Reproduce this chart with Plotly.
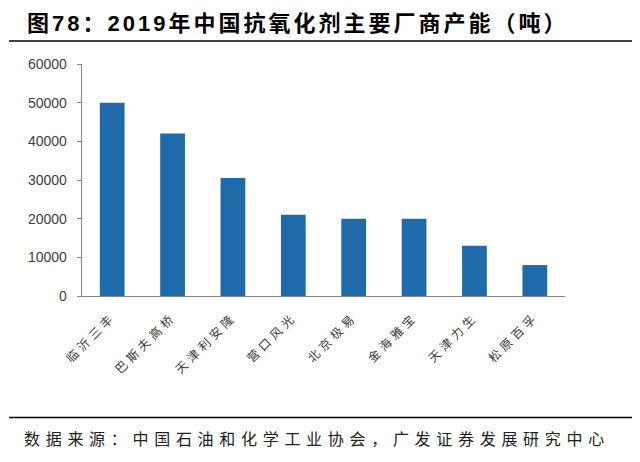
import plotly.graph_objects as go

companies = ["临沂三丰", "巴斯夫高桥", "天津利安隆", "营口风光", "北京极易", "金海雅宝", "天津力生", "松原百孚"]
capacity = [50000, 42000, 30500, 21000, 20000, 20000, 13000, 8000]
y_ticks = [0, 10000, 20000, 30000, 40000, 50000, 60000]
y_tick_labels = [str(v) for v in y_ticks]

title_text = "图78：2019年中国抗氧化剂主要厂商产能（吨）"
source_text = "数据来源：中国石油和化学工业协会，广发证券发展研究中心"

W, H = 640, 462
L, R, T, B = 82, 565, 64, 296


def px_x(px):
    return (px - L) / (R - L)


def px_y(py):
    return (B - py) / (B - T)


CJK = "Liberation Sans, Noto Sans CJK SC, sans-serif"

fig = go.Figure(
    go.Bar(
        x=companies,
        y=capacity,
        marker=dict(color="#1F6BAA", line=dict(width=0)),
        width=0.41,
        hoverinfo="skip",
    )
)

fig.update_layout(
    width=W,
    height=H,
    margin=dict(l=L, r=W - R, t=T, b=H - B, pad=0, autoexpand=False),
    paper_bgcolor="white",
    plot_bgcolor="white",
    showlegend=False,
    xaxis=dict(
        tickmode="array",
        tickvals=companies,
        ticktext=['<span style="letter-spacing:4px">%s</span>' % c for c in companies],
        tickangle=-45,
        tickfont=dict(family="Noto Sans CJK SC", size=12, color="#3a3a3a"),
        showline=True,
        linecolor="#868686",
        linewidth=1.3,
        ticks="",
        showgrid=False,
        automargin=False,
        ticklabelstandoff=8,
    ),
    yaxis=dict(
        range=[0, 60000],
        tickmode="array",
        tickvals=y_ticks,
        ticktext=y_tick_labels,
        tickfont=dict(family="Liberation Sans", size=14, color="#404040"),
        showline=True,
        linecolor="#868686",
        linewidth=1.3,
        ticks="outside",
        ticklen=4,
        tickcolor="#868686",
        showgrid=False,
        zeroline=False,
        automargin=False,
        ticklabelstandoff=7,
    ),
)

fig.add_annotation(
    xref="paper", yref="paper",
    x=px_x(25), y=px_y(23),
    xanchor="left", yanchor="middle",
    text='<b><span style="letter-spacing:3px">%s</span></b>' % title_text,
    showarrow=False,
    font=dict(family=CJK, size=22, color="#000000"),
)

fig.add_annotation(
    xref="paper", yref="paper",
    x=px_x(22), y=px_y(438),
    xanchor="left", yanchor="middle",
    text='<span style="letter-spacing:5.7px">%s</span>' % source_text,
    showarrow=False,
    font=dict(family="Noto Sans CJK SC", size=16, color="#222222"),
)

for py in (41, 417.5):
    fig.add_shape(
        type="line", xref="paper", yref="paper",
        x0=px_x(9), x1=px_x(632), y0=px_y(py), y1=px_y(py),
        line=dict(color="#000000", width=1.6),
    )

fig.write_html(
    "out.html",
    config={"displayModeBar": False, "staticPlot": True},
    post_script="document.body.style.margin='0';document.body.style.padding='0';",
)
